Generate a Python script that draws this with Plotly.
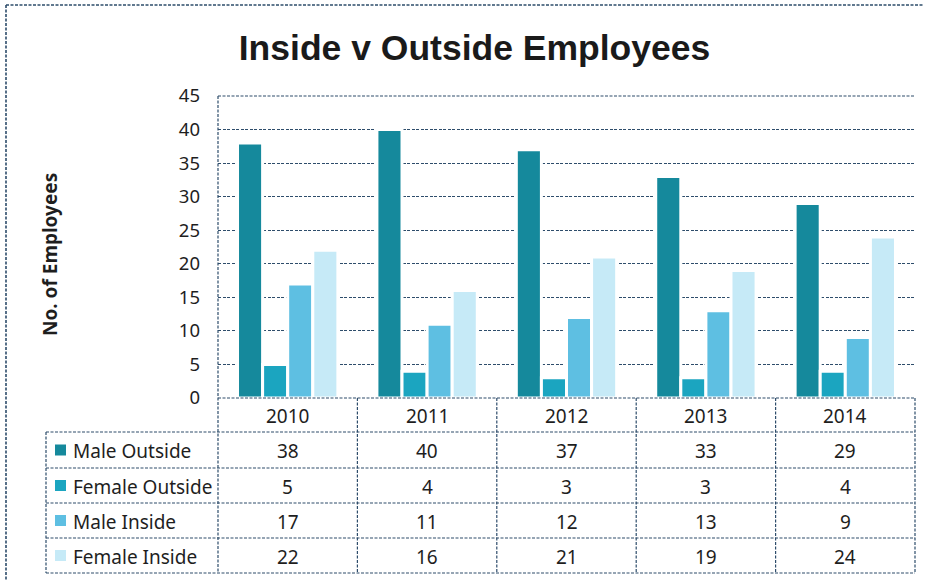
import plotly.graph_objects as go

# ---- data ----
years = ["2010", "2011", "2012", "2013", "2014"]
series_names = ["Male Outside", "Female Outside", "Male Inside", "Female Inside"]
male_outside = [38, 40, 37, 33, 29]
female_outside = [5, 4, 3, 3, 4]
male_inside = [17, 11, 12, 13, 9]
female_inside = [22, 16, 21, 19, 24]
y_ticks = [0, 5, 10, 15, 20, 25, 30, 35, 40, 45]

series_values = [male_outside, female_outside, male_inside, female_inside]
colors = ["#15899c", "#1ba5c0", "#5ebfe2", "#c6eaf7"]

# ---- geometry (pixels) ----
W, H = 928, 582
PL, PR, PT, PB = 218, 915, 96, 398          # plot area
TABLE_LEFT = 46
ROW_LINES = [432, 468, 503, 538, 573]       # horizontal table lines below the axis
GRID = "#2e4d6b"
DASH = "3px,1.5px"
TEXT_FONT = "Noto Sans"
TEXT_SIZE = 19
TEXT_COLOR = "#1e1e1e"


def px(x):
    return (x - PL) / (PR - PL)


def py(y):
    return (PB - y) / (PB - PT)


fig = go.Figure()
for name, vals, col in zip(series_names, series_values, colors):
    fig.add_trace(go.Bar(
        x=years, y=vals, name=name,
        marker=dict(color=col, line=dict(color="white", width=3)),
        showlegend=False, hoverinfo="x+y+name",
    ))

shapes = []


def line(x0, y0, x1, y1, color=GRID, width=1.2, dash=DASH):
    shapes.append(dict(type="line", xref="paper", yref="paper",
                       x0=px(x0), y0=py(y0), x1=px(x1), y1=py(y1),
                       line=dict(color=color, width=width, dash=dash),
                       layer="above"))


def label(x, y, text, xanchor="center", size=TEXT_SIZE, **kw):
    annotations.append(dict(
        x=px(x), y=py(y), xref="paper", yref="paper", text=text,
        showarrow=False, xanchor=xanchor, yanchor="middle",
        font=dict(family=TEXT_FONT, size=size, color=TEXT_COLOR), **kw))


# outer chart frame (top and left)
line(6, 5, 924, 5, width=1.6)
line(6, 5, 6, 580, width=1.6)

# plot frame
line(PL, PT, PR, PT)
line(PL, PT, PL, ROW_LINES[-1])
line(PL, PB, PR, PB)

# data table grid
n = len(years)
col_w = (PR - PL) / n
for i in range(1, n + 1):
    x = PL + i * col_w
    line(x, PB, x, ROW_LINES[-1])
line(TABLE_LEFT, ROW_LINES[0], TABLE_LEFT, ROW_LINES[-1])
for y in ROW_LINES:
    line(TABLE_LEFT, y, PR, y)

annotations = []
# column headers (years)
for i, yr in enumerate(years):
    label(PL + (i + 0.5) * col_w, (PB + ROW_LINES[0]) / 2 + 1, yr)

# table rows: legend key + values
for r, (name, vals, col) in enumerate(zip(series_names, series_values, colors)):
    yc = (ROW_LINES[r] + ROW_LINES[r + 1]) / 2
    shapes.append(dict(type="rect", xref="paper", yref="paper",
                       x0=px(55), x1=px(66), y0=py(yc + 5.5), y1=py(yc - 5.5),
                       fillcolor=col, line=dict(width=0), layer="above"))
    label(71, yc + 1, name, xanchor="left")
    for i, v in enumerate(vals):
        label(PL + (i + 0.5) * col_w, yc + 1, str(v))

# y-axis title
label(50, 255, "<b>No. of Employees</b>", size=19, textangle=-90)

fig.update_layout(
    width=W, height=H,
    margin=dict(l=PL, r=W - PR, t=PT, b=H - PB, pad=0),
    paper_bgcolor="white", plot_bgcolor="white",
    title=dict(text="<b>Inside v Outside Employees</b>",
               x=(237 + 712) / 2 / W, xanchor="center",
               y=1 - 48 / H, yanchor="middle",
               font=dict(family="Liberation Sans", size=35.5, color="#1a1a1a")),
    barmode="group", bargap=0.28, bargroupgap=0,
    xaxis=dict(showticklabels=False, showgrid=False, showline=False,
               zeroline=False, ticks=""),
    yaxis=dict(range=[0, 45], tickvals=y_ticks, showgrid=True,
               gridcolor=GRID, gridwidth=1.2, griddash=DASH,
               zeroline=False, showline=False, ticks="",
               ticklabelstandoff=17,
               tickfont=dict(family=TEXT_FONT, size=18.5, color=TEXT_COLOR)),
    shapes=shapes, annotations=annotations,
)

fig.write_html("out.html")
